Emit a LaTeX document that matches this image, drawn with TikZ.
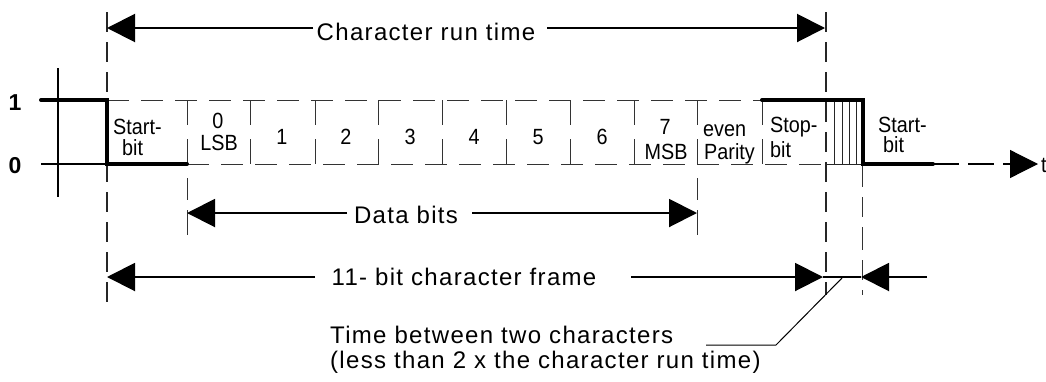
\documentclass[tikz,border=0pt]{standalone}
\usepackage{fontspec}
\setmainfont{Liberation Sans}
\newfontfamily\lblfont[FakeStretch=0.9]{Liberation Sans}
\newfontfamily\widefont[LetterSpace=5.5]{Liberation Sans}
\usetikzlibrary{arrows.meta}
\tikzset{
  sig/.style={line width=4pt, line cap=round},
  gridln/.style={black!80, line width=1pt, dash pattern=on 22pt off 12pt},
  guide/.style={black!85, line width=1.2pt, dash pattern=on 20pt off 10pt},
  dimln/.style={line width=2pt, -{Triangle[length=28pt,width=28pt]}},
  bigtxt/.style={inner sep=0pt, font=\widefont\fontsize{24}{26}\selectfont},
  lbl/.style={inner sep=0pt, font=\lblfont\fontsize{22}{24}\selectfont},
  lvl/.style={inner sep=0pt, font=\bfseries\fontsize{23}{25}\selectfont},
}
\begin{document}
\begin{tikzpicture}[x=1pt,y=-1pt]
\useasboundingbox (0,0) rectangle (1046,381);
% level labels and axis
\node[lvl, anchor=base] (one) at (15,110) {1};
\node[lvl, anchor=base] (zero) at (15,173) {0};
\coordinate (axT) at (58,68);
\coordinate (axB) at (58,197);
\draw[line width=2.5pt] (axT) -- (axB);
\coordinate (z0) at (41,164);
\coordinate (z1) at (107,164);
\draw[line width=2pt] (z0) -- (z1);
% dashed bit frame
\draw[gridln] (107,100) -- (762,100);
\draw[gridln] (187,164) -- (827,164);
\foreach \x in {250,315,378,442,506,570,634,762}
  \draw[black!80, line width=1pt, dash pattern=on 25pt off 14pt] (\x,100) -- (\x,164);
% long guides
\draw[guide] (107,12) -- (107,308);
\draw[black!80, line width=1pt, dash pattern=on 25pt off 14pt on 25pt off 14pt on 22pt off 10pt] (187,100) -- (187,243);
\draw[black!80, line width=1pt, dash pattern=on 25pt off 14pt on 25pt off 14pt on 22pt off 10pt] (697,100) -- (697,243);
\draw[guide] (826,12) -- (826,295);
\draw[black!80, line width=1pt, dash pattern=on 23pt off 10pt on 20pt off 10pt] (862,164) -- (862,295);
% hatch between characters
\foreach \x in {834,842,849,856}
  \draw[black!85, line width=1pt] (\x,100) -- (\x,164);
\draw[black!85, line width=1pt] (827,164) -- (862,164);
% signal
\coordinate (s0) at (41,100);
\coordinate (s1) at (107,100);
\coordinate (s2) at (107,164);
\coordinate (s3) at (187,164);
\draw[sig] (s0) -- (s1) -- (s2) -- (s3);
\coordinate (p0) at (762,100);
\coordinate (p1) at (863,100);
\coordinate (p2) at (863,164);
\coordinate (p3) at (933,164);
\draw[sig] (p0) -- (p1) -- (p2) -- (p3);
% time axis
\node[lbl, anchor=base west] (t) at (1041,172) {t};
\coordinate (tTip) at (1038,164);
\draw[line width=1.2pt, dash pattern=on 26pt off 9pt, -{Triangle[length=28pt,width=28pt]}] (p3) -- (tTip);
% cell labels
\node[lbl, anchor=base west] (sb1) at (113,134) {Start-};
\node[lbl, anchor=base west] (sb2) at (122,155) {bit};
\node[lbl, anchor=base] (b0a) at (218,128) {0};
\node[lbl, anchor=base] (b0b) at (219,150) {LSB};
\node[lbl, anchor=base] (b1) at (282,144) {1};
\node[lbl, anchor=base] (b2) at (346,144) {2};
\node[lbl, anchor=base] (b3) at (410,144) {3};
\node[lbl, anchor=base] (b4) at (474,144) {4};
\node[lbl, anchor=base] (b5) at (538,144) {5};
\node[lbl, anchor=base] (b6) at (602,144) {6};
\node[lbl, anchor=base] (b7a) at (665,134) {7};
\node[lbl, anchor=base] (b7b) at (666,159) {MSB};
\node[lbl, anchor=base west] (par1) at (703,136) {even};
\node[lbl, anchor=base west] (par2) at (704,159) {Parity};
\node[lbl, anchor=base west] (stp1) at (770,132) {Stop-};
\node[lbl, anchor=base west] (stp2) at (770,157) {bit};
\node[lbl, anchor=base west] (sb3) at (878,132) {Start-};
\node[lbl, anchor=base west] (sb4) at (883,152) {bit};
% character run time
\node[bigtxt, anchor=base] (crt) at (426,40) {Character run time};
\coordinate (ctL) at (107,28);
\coordinate (ctR) at (825,28);
\coordinate (ctLa) at (313,28);
\coordinate (ctRa) at (547,28);
\draw[dimln] (ctLa) -- (ctL);
\draw[dimln] (ctRa) -- (ctR);
% data bits
\node[bigtxt, anchor=base] (db) at (406,223) {Data bits};
\coordinate (dbL) at (187,213);
\coordinate (dbR) at (697,213);
\coordinate (dbLa) at (347,213);
\coordinate (dbRa) at (472,213);
\draw[dimln] (dbLa) -- (dbL);
\draw[dimln] (dbRa) -- (dbR);
% frame
\node[bigtxt, anchor=base] (fr) at (464,285) {11- bit character frame};
\coordinate (frL) at (107,277);
\coordinate (frR) at (823,277);
\coordinate (frLa) at (315,277);
\coordinate (frRa) at (631,277);
\coordinate (gapR) at (861,277);
\coordinate (gapRa) at (927,277);
\draw[dimln] (frLa) -- (frL);
\draw[dimln] (frRa) -- (frR);
\draw[line width=2pt] (frR) -- (gapR);
\draw[dimln] (gapRa) -- (gapR);
% time between characters
\node[bigtxt, anchor=base west] (tb1) at (330,343) {Time between two characters};
\node[bigtxt, anchor=base west] (tb2) at (330,368) {(less than 2 x the character run time)};
\coordinate (ld1) at (843,277);
\coordinate (ld2) at (776,345);
\coordinate (ld3) at (706,345);
\draw[line width=1pt] (ld1) -- (ld2) -- (ld3);
\end{tikzpicture}
\end{document}
